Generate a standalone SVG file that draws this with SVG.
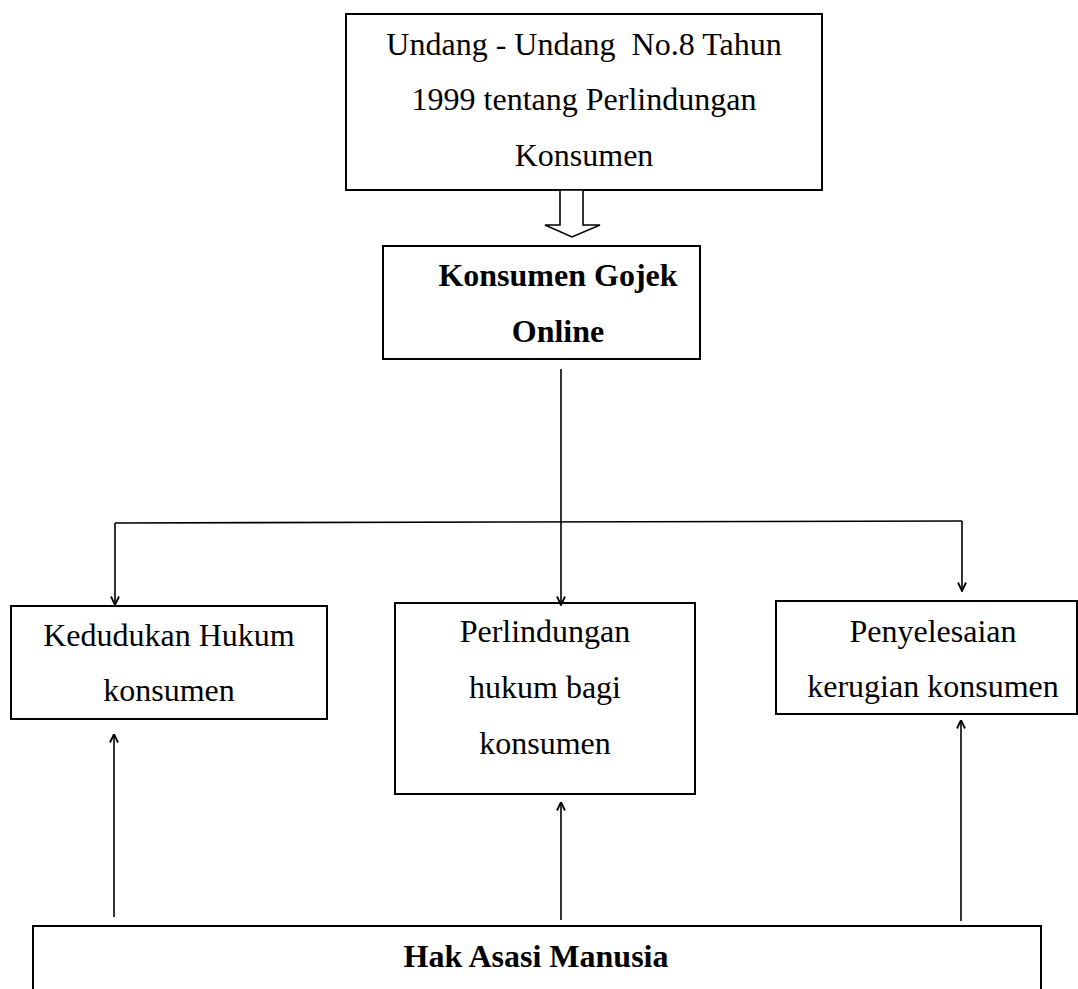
<svg xmlns="http://www.w3.org/2000/svg" width="1078" height="989" viewBox="0 0 1078 989">
  <defs>
    <style>
      .box { fill: #ffffff; stroke: #000000; stroke-width: 2; }
      .t { font-family: "Liberation Serif", "Times New Roman", serif; font-size: 32px; fill: #000000; text-anchor: middle; }
      .b { font-weight: bold; }
      .con { stroke: #000000; stroke-width: 1.6; fill: none; }
      .arr { marker-end: url(#ah); }
    </style>
    <marker id="ah" viewBox="0 0 10 10" refX="9.5" refY="5" markerWidth="10" markerHeight="10" markerUnits="userSpaceOnUse" orient="auto">
      <path d="M1,1 L9.5,5 L1,9" fill="none" stroke="#000000" stroke-width="1.8"/>
    </marker>
  </defs>
  <rect width="1078" height="989" fill="#ffffff"/>

  <g id="node-uu">
    <rect class="box" x="346" y="14" width="476" height="176"/>
    <text class="t" x="584" y="55" xml:space="preserve">Undang - Undang  No.8 Tahun</text>
    <text class="t" x="584" y="110">1999 tentang Perlindungan</text>
    <text class="t" x="584" y="166">Konsumen</text>
  </g>

  <g id="node-konsumen">
    <rect class="box" x="383" y="246" width="317" height="113"/>
    <text class="t b" x="558" y="286">Konsumen Gojek</text>
    <text class="t b" x="558" y="342">Online</text>
  </g>

  <g id="node-kedudukan">
    <rect class="box" x="11" y="606" width="316" height="113"/>
    <text class="t" x="169" y="646">Kedudukan Hukum</text>
    <text class="t" x="169" y="701">konsumen</text>
  </g>

  <g id="node-perlindungan">
    <rect class="box" x="395" y="603" width="300" height="191"/>
    <text class="t" x="545" y="642">Perlindungan</text>
    <text class="t" x="545" y="698">hukum bagi</text>
    <text class="t" x="545" y="754">konsumen</text>
  </g>

  <g id="node-penyelesaian">
    <rect class="box" x="776" y="601" width="301" height="113"/>
    <text class="t" x="933" y="642">Penyelesaian</text>
    <text class="t" x="933" y="697">kerugian konsumen</text>
  </g>

  <g id="node-ham">
    <rect class="box" x="33" y="926" width="1008" height="100"/>
    <text class="t b" x="536" y="967">Hak Asasi Manusia</text>
  </g>

  <g id="connectors">
    <polygon points="560,190 583,190 583,225 600,225 572,237 545,225 560,225" fill="#ffffff" stroke="#000000" stroke-width="1.6"/>
    <line class="con arr" x1="561" y1="369" x2="561" y2="605"/>
    <line class="con" x1="115" y1="523" x2="962" y2="521"/>
    <line class="con arr" x1="115" y1="523" x2="115" y2="605"/>
    <line class="con arr" x1="962" y1="521" x2="962" y2="591"/>
    <line class="con arr" x1="114" y1="917" x2="114" y2="734"/>
    <line class="con arr" x1="561" y1="920" x2="561" y2="802"/>
    <line class="con arr" x1="961" y1="921" x2="961" y2="720"/>
  </g>
</svg>
